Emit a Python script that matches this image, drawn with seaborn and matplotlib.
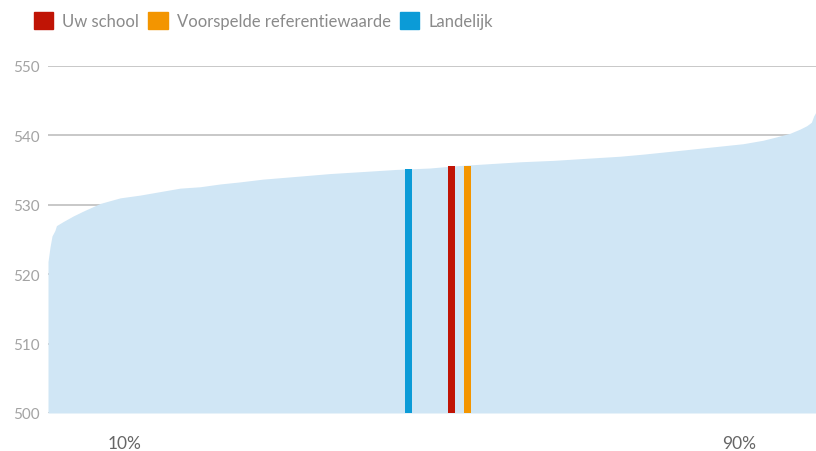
import numpy as np
import matplotlib
matplotlib.use("Agg")
import matplotlib.pyplot as plt
from matplotlib.patches import Patch
import seaborn as sns

# sorted school scores along the percentile axis
pct = [0, 0.26, 0.52, 0.9, 1.1, 2.0, 3.3, 4.6, 6.8, 9.4, 12.0, 14.6, 17.2,
       19.8, 22.4, 25.0, 28.0, 32.4, 36.7, 41.1, 45.4, 49.7, 52.8, 57.1,
       61.5, 65.8, 70.1, 74.5, 77.5, 81.9, 86.2, 90.5, 93.1, 94.9, 96.6,
       97.9, 98.8, 99.4, 99.7, 100]
scores = [521.8, 523.9, 525.5, 526.3, 527.0, 527.6, 528.4, 529.1, 530.2,
          531.0, 531.4, 531.9, 532.4, 532.6, 533.0, 533.3, 533.7, 534.1,
          534.5, 534.8, 535.1, 535.3, 535.6, 535.9, 536.2, 536.4, 536.7,
          537.0, 537.3, 537.8, 538.3, 538.8, 539.3, 539.8, 540.3, 540.9,
          541.4, 541.9, 542.8, 543.4]

labels = ["Uw school", "Voorspelde referentiewaarde", "Landelijk"]
label_pct = [52.5, 54.6, 46.9]
label_scores = [535.6, 535.6, 535.1]
colors = ["#c01405", "#f39500", "#0b9bd7"]

yticks = [500, 510, 520, 530, 540, 550]
xticks = [10, 90]
xticklabels = ["10%", "90%"]

sns.set_theme(style="white")
plt.rcParams["font.family"] = ["Lato", "DejaVu Sans"]

fig = plt.figure(figsize=(8.16, 4.52), dpi=100)
ax = fig.add_axes([48 / 816, 1 - 414 / 452, 1 - 48 / 816, (414 - 67) / 452])

for y in yticks:
    ax.axhline(y, color="#c4c4c4", lw=1.3, zorder=0)

ax.fill_between(pct, scores, 500, color="#d0e6f5", lw=0, zorder=1)
ax.bar(label_pct, np.array(label_scores) - 500, bottom=500, width=0.95,
       color=colors, linewidth=0, zorder=2)

ax.set_xlim(0, 100)
ax.set_ylim(500, 550)
ax.set_yticks(yticks)
ax.set_yticklabels([str(y) for y in yticks], color="#a3a3a3", fontsize=11)
ax.set_xticks(xticks)
ax.set_xticklabels(xticklabels, color="#666666", fontsize=12.5)
ax.tick_params(axis="y", length=0, pad=6)
ax.tick_params(axis="x", length=0, pad=16)
sns.despine(ax=ax, left=True, bottom=True)

handles = [Patch(color=c, label=l) for c, l in zip(colors, labels)]
fig.legend(handles=handles, loc="upper left", bbox_to_anchor=(34 / 816, 1 - 13 / 452),
           ncol=3, frameon=False, fontsize=12.0, borderpad=0, borderaxespad=0,
           handlelength=1.15, handleheight=1.15, handletextpad=0.55,
           columnspacing=0.55, labelcolor="#8a8a8a")

fig.savefig("out.png", dpi=100)
